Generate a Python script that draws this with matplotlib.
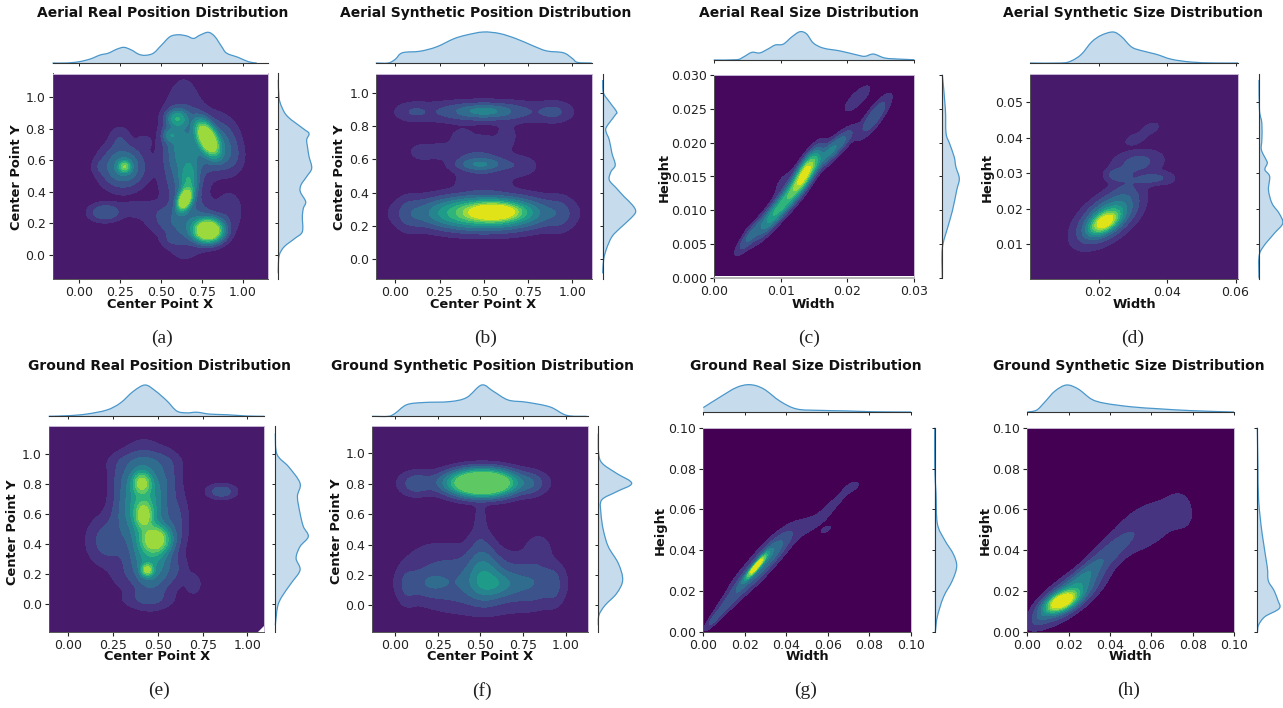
import numpy as np
import matplotlib
matplotlib.use("Agg")
import matplotlib.pyplot as plt
from matplotlib.patches import Polygon, PathPatch
from matplotlib.path import Path

W, H = 1283, 708
titles = ["Aerial Real Position Distribution", "Aerial Synthetic Position Distribution",
          "Aerial Real Size Distribution", "Aerial Synthetic Size Distribution",
          "Ground Real Position Distribution", "Ground Synthetic Position Distribution",
          "Ground Real Size Distribution", "Ground Synthetic Size Distribution"]
captions = ["(a)", "(b)", "(c)", "(d)", "(e)", "(f)", "(g)", "(h)"]

# density components: (cx, cy, sx, sy, rho, amplitude)
a_blobs = [(.79,.155,.052,.042,0,1.3),(.785,.74,.042,.065,-.55,1.1),(.645,.35,.026,.04,.4,1.0),(.67,.46,.035,.085,.15,.3),
           (.28,.56,.022,.022,0,.45),(.27,.56,.08,.08,0,.25),(.6,.865,.04,.035,0,.33),(.56,.76,.03,.03,0,.18),(.62,.68,.06,.12,0,.14),
           (.64,.55,.08,.3,0,.12),(.93,.62,.05,.07,0,.06),(.92,.28,.05,.08,0,.05),(.9,.72,.05,.08,0,.04),(.8,.7,.08,.1,0,.2),
           (.16,.27,.06,.035,0,.13),(.52,.22,.08,.05,0,.05),(.57,.1,.04,.03,0,.04),(.7,.2,.1,.08,0,.12),(.38,.29,.09,.035,0,.05),
           (.25,.74,.04,.05,0,.05),(.4,.72,.03,.03,0,.03),(.13,.56,.03,.03,0,.03)]
b_blobs = [(.56,.285,.085,.03,0,.85),(.5,.28,.2,.055,0,.55),(.5,.27,.2,.065,0,.15),(.08,.27,.05,.07,0,.05),(.93,.27,.05,.07,0,.05),
           (.5,.89,.09,.022,0,.13),(.5,.885,.22,.04,0,.13),(.1,.885,.06,.035,0,.05),(.9,.885,.06,.04,0,.06),
           (.48,.57,.08,.022,0,.15),(.48,.59,.1,.06,0,.09),(.25,.65,.09,.03,0,.05),(.15,.64,.04,.03,0,.03),(.7,.56,.07,.04,0,.05),
           (.5,.46,.1,.04,0,.05),(.38,.73,.05,.04,0,.04),(.63,.74,.04,.05,0,.04),(.5,.72,.05,.02,0,.03),(.2,.535,.02,.012,0,.02)]
c_blobs = [(.0138,.0158,.0012,.0018,.8,.75),(.0125,.0135,.0015,.002,.85,.35),(.0095,.01,.0018,.0022,.9,.42),(.0055,.0063,.0012,.0015,.88,.14),
           (.0172,.0185,.0016,.0016,.85,.22),(.0195,.0205,.0012,.0012,.8,.07),(.024,.0238,.0014,.0018,.85,.13),(.0215,.0265,.0014,.0014,.8,.05),(.0105,.014,.0012,.0015,.6,.03),(.004,.0075,.001,.0008,.5,.02)]
d_blobs = [(.0218,.0163,.0025,.0019,.55,.8),(.0225,.0175,.0048,.004,.55,.35),(.0255,.0295,.0022,.0011,0,.09),(.0315,.033,.0045,.0022,.2,.09),
           (.0355,.0285,.0035,.0012,.3,.08),(.0305,.0395,.0018,.001,.4,.05),(.035,.0425,.0024,.0016,.5,.035),(.04,.028,.0022,.001,0,.02),(.028,.025,.003,.004,0,.04)]
e_blobs = [(.41,.81,.032,.045,0,.5),(.42,.59,.03,.055,0,.5),(.49,.43,.05,.055,0,.7),(.44,.225,.02,.025,0,.55),
           (.42,.68,.075,.17,0,.42),(.46,.3,.07,.14,0,.32),(.22,.42,.07,.1,0,.1),(.3,.6,.05,.1,0,.05),(.3,.85,.05,.08,0,.05),(.55,.85,.05,.1,0,.06),
           (.855,.75,.05,.03,0,.11),(.7,.13,.03,.05,0,.04),(.6,.55,.045,.12,0,.07),(.42,.95,.12,.045,0,.05),(.44,.03,.09,.04,0,.05),(.6,.22,.05,.07,0,.04),(.3,.2,.05,.07,0,.03)]
f_blobs = [(.51,.805,.11,.05,0,1.3),(.5,.81,.2,.045,0,.12),(.12,.8,.06,.05,0,.09),(.8,.8,.05,.05,0,.07),
           (.5,.15,.24,.11,0,.14),(.52,.2,.06,.1,0,.17),(.6,.14,.08,.05,0,.13),(.2,.15,.08,.06,0,.08),(.82,.15,.08,.09,0,.07),
           (.07,.13,.035,.08,0,.05),(.93,.13,.035,.08,0,.05),(.84,.38,.05,.06,0,.04),(.25,.33,.12,.07,0,.03),(.5,.38,.05,.1,0,.05),(.5,.58,.02,.08,0,.04)]
g_blobs = [(.0255,.032,.003,.0036,.95,.95),(.027,.032,.0075,.0085,.9,.2),(.012,.0145,.0055,.0065,.92,.08),(.005,.006,.0025,.003,.9,.07),
           (.034,.04,.006,.006,.8,.07),(.0645,.0645,.0055,.0055,.93,.03),(.05,.052,.01,.006,.8,.03),(.072,.071,.003,.002,.5,.025),(.059,.05,.002,.0015,.7,.03),(.017,.024,.004,.005,.7,.015)]
h_blobs = [(.0165,.0148,.0045,.003,.55,1.0),(.02,.0175,.0085,.007,.75,.35),(.029,.029,.0055,.005,.8,.1),(.04,.039,.008,.0075,.8,.09),
           (.058,.048,.0095,.0075,.65,.035),(.06,.057,.012,.007,.5,.03),(.073,.062,.004,.005,0,.02),(.075,.055,.004,.004,0,.02),(.006,.007,.003,.003,.5,.05)]

# marginal curves: positions and heights relative to the peak
a_tx = [-.16,-.073,0,.07,.13,.18,.232,.276,.323,.364,.404,.455,.506,.557,.608,.659,.70,.74,.79,.83,.872,.902,.974,1.035,1.085]
a_th = [0,0,.04,.13,.26,.32,.45,.51,.42,.29,.25,.32,.59,.86,.92,.88,.8,.91,1,.86,.53,.32,.18,.04,0]
a_ry = [1.11,1.0,.94,.877,.80,.77,.73,.677,.624,.55,.497,.444,.40,.338,.296,.243,.148,.106,.053,0,-.074,-.116]
a_rw = [0,.02,.1,.28,.75,.92,.85,.88,.92,1,.85,.68,.66,.82,.75,.72,.72,.5,.18,.03,0,0]
b_tx = [-.11,-.04,0,.04,.14,.233,.33,.40,.497,.59,.685,.78,.855,.95,1.0,1.03,1.11]
b_th = [0,0,.12,.33,.38,.52,.78,.9,1,.95,.78,.55,.39,.33,.15,.02,0]
b_ry = [1.076,1.0,.946,.886,.866,.796,.766,.716,.636,.566,.526,.476,.426,.376,.326,.286,.246,.186,.136,.066,0,-.084]
b_rw = [0,.02,.2,.42,.38,.12,.1,.2,.28,.38,.25,.2,.42,.65,.9,1,.85,.52,.28,.12,.03,0]
c_tx = [0,.0034,.0044,.0057,.0069,.0082,.0092,.0104,.0117,.0129,.0139,.0149,.0164,.0189,.0214,.0226,.0239,.0256,.0279,.03]
c_th = [0,.01,.1,.27,.25,.4,.53,.56,.82,1,.92,.6,.42,.32,.18,.13,.21,.07,.03,.01]
c_ry = [.03,.025,.0214,.0199,.0179,.0164,.0147,.013,.01,.0076,.0044,0]
c_rw = [0,.18,.22,.42,.7,.8,1,.85,.6,.33,0,0]
d_tx = [0,.0092,.0121,.015,.018,.0209,.0243,.0267,.0296,.0325,.0369,.0413,.0471,.0539,.0607]
d_th = [0,0,.07,.28,.68,.9,1,.85,.52,.4,.28,.12,.03,0,0]
d_ry = [.0563,.0478,.0441,.0394,.0366,.0338,.0328,.031,.0291,.0253,.0215,.0187,.0159,.0131,.0093,.0065,.0004]
d_rw = [0,.02,.12,.12,.1,.3,.35,.25,.45,.4,.55,.85,1,.65,.18,0,0]
e_tx = [-.11,0,.10,.214,.289,.363,.428,.484,.549,.605,.661,.717,.79,.885,.996,1.095]
e_th = [0,.02,.07,.2,.42,.8,1,.82,.5,.17,.11,.13,.07,.05,.01,0]
e_ry = [1.14,1.0,.917,.806,.717,.605,.516,.449,.382,.304,.225,.136,.047,-.02,-.143]
e_rw = [0,.05,.4,.75,.67,.75,.85,1,.75,.63,.75,.48,.2,.07,0]
f_tx = [-.135,-.04,0,.067,.164,.32,.419,.507,.575,.663,.771,.908,1.006,1.123]
f_th = [0,0,.1,.37,.44,.47,.6,1,.8,.52,.45,.3,.03,0]
f_ry = [1.13,1.0,.934,.868,.803,.748,.693,.605,.496,.386,.276,.167,.079,0,-.064,-.13]
f_rw = [0,.01,.12,.55,1,.55,.1,.08,.15,.3,.6,.73,.55,.2,.02,0]
g_tx = [0,.008,.016,.0225,.029,.037,.045,.056,.069,.082,.1]
g_th = [.17,.55,.9,1,.85,.4,.12,.07,.05,.02,.01]
g_ry = [.1,.081,.068,.053,.045,.038,.032,.025,.017,.0074,0]
g_rw = [0,0,.06,.12,.45,.85,1,.8,.4,.12,.03]
h_tx = [0,.0045,.0085,.0134,.019,.0247,.0311,.0376,.0505,.0634,.0795,.1]
h_th = [.01,.08,.38,.78,1,.85,.48,.33,.2,.13,.06,.01]
h_ry = [.1,.081,.0645,.048,.032,.025,.0204,.0155,.0114,.0074,.0033,0]
h_rw = [0,.03,.06,.22,.45,.5,.75,.93,1,.35,.06,.01]

pos_x = [0, .25, .5, .75, 1]
pos_y = [0, .2, .4, .6, .8, 1]
g_t = [0, .02, .04, .06, .08, .1]

panels = [
 dict(b=a_blobs,tx=a_tx,th=a_th,ry=a_ry,rw=a_rw,box=(52.5,268,73.5,278.7),xl=(-.16,1.154),yl=(-.15,1.15),xt=pos_x,yt=pos_y,xf="%.2f",yf="%.1f",
      top=(63,32.3),right=(278.3,311.7),tc=(162.3,13),cc=(162,338),xc=(160,304),yc=(16.7,176.7),xn="Center Point X",yn="Center Point Y",l0=.04,cap=.85),
 dict(b=b_blobs,tx=b_tx,th=b_th,ry=b_ry,rw=b_rw,box=(376,591.7,73.5,278.7),xl=(-.109,1.11),yl=(-.116,1.115),xt=pos_x,yt=pos_y,xf="%.2f",yf="%.1f",
      top=(63,32),right=(602.7,635.7),tc=(485.7,13),cc=(485.7,338),xc=(483,304),yc=(340,176.7),xn="Center Point X",yn="Center Point Y",l0=.04,cap=.95),
 dict(b=c_blobs,tx=c_tx,th=c_th,ry=c_ry,rw=c_rw,box=(713.7,914.3,74.7,278.3),xl=(0,.03),yl=(0,.03),xt=[0,.01,.02,.03],yt=[0,.005,.01,.015,.02,.025,.03],xf="%.2f",yf="%.3f",
      top=(60,31.7),right=(942.3,959.3),tc=(809,13),cc=(809,338),xc=(813.7,304),yc=(664,177.7),xn="Width",yn="Height",l0=-.06,cap=.95,ymin=.0005),
 dict(b=d_blobs,tx=d_tx,th=d_th,ry=d_ry,rw=d_rw,box=(1030,1238.3,73.5,278.7),xl=(0,.0608),yl=(.0003,.0581),xt=[.02,.04,.06],yt=[.01,.02,.03,.04,.05],xf="%.2f",yf="%.2f",
      top=(63,32),right=(1259,1282.7),tc=(1132.7,13),cc=(1132.7,338),xc=(1134,304),yc=(987.7,177.7),xn="Width",yn="Height",l0=.04,cap=.95),
 dict(b=e_blobs,tx=e_tx,th=e_th,ry=e_ry,rw=e_rw,box=(48.7,264.3,426.3,632),xl=(-.11,1.094),yl=(-.19,1.187),xt=pos_x,yt=pos_y,xf="%.2f",yf="%.1f",
      top=(416.3,385),right=(275.3,308.3),tc=(159,366),cc=(158.7,690.7),xc=(156.7,657),yc=(12.3,531.7),xn="Center Point X",yn="Center Point Y",l0=.04,cap=.88,corner=True),
 dict(b=f_blobs,tx=f_tx,th=f_th,ry=f_ry,rw=f_rw,box=(372.3,588.3,426.3,632),xl=(-.135,1.133),yl=(-.175,1.178),xt=pos_x,yt=pos_y,xf="%.2f",yf="%.1f",
      top=(416.3,385),right=(598.3,631.7),tc=(482.7,366),cc=(482,690.7),xc=(480,657),yc=(336.7,530.7),xn="Center Point X",yn="Center Point Y",l0=.04,cap=.78),
 dict(b=g_blobs,tx=g_tx,th=g_th,ry=g_ry,rw=g_rw,box=(703.3,911,427.7,631.7),xl=(0,.1),yl=(0,.1),xt=g_t,yt=g_t,xf="%.2f",yf="%.2f",
      top=(412.3,384.7),right=(934.7,956.7),tc=(806,366),cc=(805.7,690.7),xc=(807,657),yc=(660.7,530.7),xn="Width",yn="Height",l0=-.1,cap=.92),
 dict(b=h_blobs,tx=h_tx,th=h_th,ry=h_ry,rw=h_rw,box=(1027.3,1234,427.7,631.7),xl=(0,.1),yl=(0,.1),xt=g_t,yt=g_t,xf="%.2f",yf="%.2f",
      top=(412.3,385),right=(1257.3,1279.3),tc=(1129,366),cc=(1129,690.7),xc=(1130.7,657),yc=(985,530.7),xn="Width",yn="Height",l0=-.1,cap=.93),
]

plt.rcParams["font.family"] = "DejaVu Sans"
fig = plt.figure(figsize=(W/100, H/100), dpi=100)

def px_axes(x0, x1, ytop, ybot):
    return fig.add_axes([x0/W, 1-ybot/H, (x1-x0)/W, (ybot-ytop)/H])

def density(blobs, X, Y):
    Z = np.zeros_like(X)
    for cx, cy, sx, sy, r, amp in blobs:
        u, v = (X-cx)/sx, (Y-cy)/sy
        Z += amp*np.exp(-(u*u-2*r*u*v+v*v)/(2*(1-r*r)))
    return Z

def smooth_path(px, py, closed_base=None):
    # Bezier curve through the read points (how the line is stroked, not new data)
    px, py = np.asarray(px, float), np.asarray(py, float)
    verts = [(px[0], py[0])]; codes = [Path.MOVETO]
    n = len(px)
    for k in range(n-1):
        a, b = max(k-1, 0), min(k+2, n-1)
        c1 = (px[k]+(px[k+1]-px[a])/6, py[k]+(py[k+1]-py[a])/6)
        c2 = (px[k+1]-(px[b]-px[k])/6, py[k+1]-(py[b]-py[k])/6)
        verts += [c1, c2, (px[k+1], py[k+1])]
        codes += [Path.CURVE4]*3
    if closed_base is not None:
        verts += closed_base + [verts[0]]
        codes += [Path.LINETO]*len(closed_base) + [Path.CLOSEPOLY]
    return Path(verts, codes)

TICK = "#222222"
FILL = (31/255, 119/255, 180/255, .25)
LINE = "#4a97cb"
for i, p in enumerate(panels):
    x0, x1, y0, y1 = p["box"]
    ax = px_axes(x0, x1, y0, y1)
    ymin = p.get("ymin", p["yl"][0])
    xs = np.linspace(*p["xl"], 500)
    ys = np.linspace(ymin, p["yl"][1], 500)
    X, Y = np.meshgrid(xs, ys)
    Z = np.minimum(density(p["b"], X, Y)**.6, p["cap"])
    lv = [p["l0"]] + [k/10 for k in range(1, 11)]
    Z = np.maximum(Z, p["l0"]+.001)
    cs = ax.contourf(X, Y, Z, levels=lv, cmap="viridis", vmin=0, vmax=1)
    cs.set_edgecolor("face"); cs.set_linewidth(.3)
    ax.set_xlim(p["xl"]); ax.set_ylim(p["yl"])
    ax.set_xticks(p["xt"], [p["xf"] % v for v in p["xt"]])
    ax.set_yticks(p["yt"], [p["yf"] % v for v in p["yt"]])
    ax.tick_params(labelsize=9, length=3, width=.8, colors=TICK, pad=2)
    for s in ax.spines.values():
        s.set_linewidth(.7)
    ax.spines["top"].set_color("#c9b8d6"); ax.spines["right"].set_color("#c9b8d6")
    ax.spines["left"].set_color("#555555"); ax.spines["bottom"].set_color("#555555")
    if "ymin" in p:
        ax.spines["bottom"].set_color("#aaaaaa"); ax.spines["bottom"].set_linewidth(1.2)
    if p.get("corner"):
        ax.add_patch(Polygon([[.97,0],[1,0],[1,.03]], closed=True, transform=ax.transAxes, fc="white", ec="none", zorder=3))

    base, peak = p["top"]
    t = px_axes(x0, x1, peak, base)
    tx, th = p["tx"], p["th"]
    t.add_patch(PathPatch(smooth_path(tx, th, [(tx[-1], 0), (tx[0], 0)]), fc=FILL, ec="none", clip_on=False))
    t.add_patch(PathPatch(smooth_path(tx, th), fc="none", ec=LINE, lw=.9, clip_on=False))
    t.set_xlim(p["xl"]); t.set_ylim(0, 1)
    t.set_xticks(p["xt"], []); t.set_yticks([])
    t.tick_params(length=2.5, width=.7, colors=TICK)
    for k in ("top", "left", "right"):
        t.spines[k].set_visible(False)
    t.spines["bottom"].set_linewidth(.8); t.spines["bottom"].set_color("#333333")
    t.patch.set_alpha(0)

    rb, rp = p["right"]
    r = px_axes(rb, rp, y0, y1)
    ry, rw = p["ry"], p["rw"]
    r.add_patch(PathPatch(smooth_path(rw, ry, [(0, ry[-1]), (0, ry[0])]), fc=FILL, ec="none", clip_on=False))
    r.add_patch(PathPatch(smooth_path(rw, ry), fc="none", ec=LINE, lw=.9, clip_on=False))
    r.set_ylim(p["yl"]); r.set_xlim(0, 1)
    r.set_yticks(p["yt"], []); r.set_xticks([])
    r.tick_params(length=2.5, width=.7, colors=TICK)
    for k in ("top", "bottom", "right"):
        r.spines[k].set_visible(False)
    r.spines["left"].set_linewidth(.8); r.spines["left"].set_color("#333333")
    r.patch.set_alpha(0)

    fig.text(p["tc"][0]/W, 1-p["tc"][1]/H, titles[i], ha="center", va="center", fontsize=10, fontweight="bold", color="#111111")
    fig.text(p["xc"][0]/W, 1-p["xc"][1]/H, p["xn"], ha="center", va="center", fontsize=9.4, fontweight="bold", color="#111111")
    fig.text(p["yc"][0]/W, 1-p["yc"][1]/H, p["yn"], ha="center", va="center", rotation=90, fontsize=9.4, fontweight="bold", color="#111111")
    fig.text(p["cc"][0]/W, 1-p["cc"][1]/H, captions[i], ha="center", va="center", fontsize=14, family="Liberation Serif", color="#222222")

fig.savefig("out.png", dpi=100)
